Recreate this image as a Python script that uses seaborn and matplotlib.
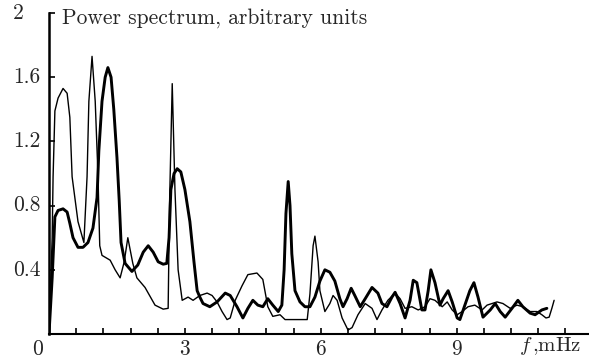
import numpy as np
import pandas as pd
import matplotlib
matplotlib.use("Agg")
import matplotlib.pyplot as plt
import seaborn as sns

# thin curve (first spectrum), frequency in mHz
thin_f = [0.00, 0.03, 0.07, 0.09, 0.13, 0.20, 0.31, 0.40, 0.46, 0.51, 0.64, 0.77,
          0.84, 0.88, 0.95, 1.02, 1.08, 1.12, 1.17, 1.35, 1.46, 1.57, 1.66, 1.74,
          1.85, 1.94, 2.12, 2.34, 2.52, 2.63, 2.66, 2.72, 2.78, 2.85, 2.94, 3.07,
          3.18, 3.33, 3.49, 3.60, 3.71, 3.82, 3.93, 4.00, 4.11, 4.26, 4.39, 4.59,
          4.72, 4.83, 4.94, 5.10, 5.21, 5.43, 5.70, 5.76, 5.83, 5.87, 5.94, 5.98,
          6.09, 6.20, 6.27, 6.36, 6.47, 6.60, 6.69, 6.82, 6.98, 7.13, 7.24, 7.35,
          7.48, 7.64, 7.75, 7.86, 8.01, 8.15, 8.30, 8.41, 8.52, 8.68, 8.79, 8.90,
          9.01, 9.12, 9.25, 9.40, 9.56, 9.67, 9.89, 10.02, 10.18, 10.33, 10.46,
          10.62, 10.77, 10.88, 10.97, 11.04, 11.10, 11.15]
thin_p = [0.00, 0.27, 0.60, 0.98, 1.39, 1.47, 1.53, 1.50, 1.35, 0.98, 0.70, 0.57,
          0.98, 1.45, 1.73, 1.45, 1.00, 0.55, 0.49, 0.46, 0.40, 0.35, 0.45, 0.60,
          0.44, 0.35, 0.29, 0.18, 0.155, 0.16, 0.80, 1.56, 0.90, 0.40, 0.21, 0.23,
          0.21, 0.24, 0.255, 0.24, 0.20, 0.14, 0.09, 0.10, 0.21, 0.30, 0.37, 0.38,
          0.34, 0.17, 0.11, 0.12, 0.09, 0.09, 0.09, 0.25, 0.55, 0.61, 0.45, 0.27,
          0.14, 0.19, 0.24, 0.21, 0.10, 0.025, 0.04, 0.12, 0.19, 0.16, 0.09, 0.15,
          0.21, 0.255, 0.22, 0.16, 0.17, 0.15, 0.17, 0.22, 0.21, 0.17, 0.20, 0.15,
          0.12, 0.14, 0.17, 0.18, 0.15, 0.18, 0.20, 0.19, 0.16, 0.18, 0.17,
          0.14, 0.14, 0.12, 0.10, 0.105, 0.16, 0.21]

# thick curve (second spectrum)
thick_f = [0.00, 0.07, 0.13, 0.20, 0.31, 0.40, 0.46, 0.53, 0.64, 0.75, 0.86, 0.97,
           1.06, 1.10, 1.17, 1.24, 1.30, 1.37, 1.43, 1.50, 1.55, 1.59, 1.68, 1.83,
           1.96, 2.08, 2.19, 2.30, 2.41, 2.52, 2.60, 2.65, 2.69, 2.76, 2.83, 2.91,
           3.00, 3.11, 3.20, 3.27, 3.33, 3.40, 3.55, 3.71, 3.89, 4.00, 4.15, 4.28,
           4.39, 4.50, 4.61, 4.72, 4.83, 4.94, 5.06, 5.14, 5.19, 5.23, 5.28, 5.32,
           5.36, 5.43, 5.54, 5.65, 5.76, 5.87, 5.98, 6.09, 6.20, 6.31, 6.42, 6.49,
           6.58, 6.67, 6.75, 6.87, 6.98, 7.13, 7.26, 7.35, 7.46, 7.57, 7.64, 7.75,
           7.86, 7.97, 8.04, 8.12, 8.23, 8.30, 8.37, 8.43, 8.52, 8.63, 8.70, 8.81,
           8.90, 9.01, 9.07, 9.18, 9.29, 9.38, 9.47, 9.58, 9.74, 9.85, 9.96, 10.07,
           10.22, 10.35, 10.46, 10.62, 10.73, 10.88, 10.99]
thick_p = [0.00, 0.35, 0.73, 0.77, 0.78, 0.76, 0.69, 0.60, 0.54, 0.54, 0.57, 0.66,
           0.85, 1.14, 1.45, 1.60, 1.66, 1.60, 1.40, 1.10, 0.83, 0.57, 0.44, 0.39,
           0.43, 0.51, 0.55, 0.51, 0.45, 0.435, 0.44, 0.60, 0.90, 1.00, 1.03, 1.01,
           0.90, 0.70, 0.45, 0.27, 0.23, 0.19, 0.17, 0.20, 0.255, 0.24, 0.17, 0.10,
           0.16, 0.21, 0.18, 0.17, 0.22, 0.18, 0.14, 0.18, 0.40, 0.75, 0.95, 0.80,
           0.50, 0.27, 0.20, 0.17, 0.17, 0.23, 0.33, 0.40, 0.385, 0.33, 0.22, 0.17,
           0.22, 0.285, 0.24, 0.17, 0.22, 0.29, 0.255, 0.19, 0.17, 0.23, 0.26, 0.19,
           0.10, 0.21, 0.335, 0.32, 0.15, 0.15, 0.27, 0.40, 0.32, 0.18, 0.22, 0.27,
           0.20, 0.10, 0.09, 0.18, 0.27, 0.32, 0.23, 0.105, 0.15, 0.19, 0.14, 0.105,
           0.16, 0.21, 0.17, 0.13, 0.12, 0.15, 0.16]

y_ticks = [0.4, 0.8, 1.2, 1.6, 2.0]
y_labels = ["0.4", "0.8", "1.2", "1.6", "2"]
x_major = [3, 6, 9]

sns.set_theme(style="white")
plt.rcParams["font.family"] = ["cmr10", "DejaVu Serif"]
plt.rcParams["mathtext.fontset"] = "cm"
plt.rcParams["axes.formatter.use_mathtext"] = True

fig = plt.figure(figsize=(5.89, 3.58), dpi=100)
ax = fig.add_axes([0.0832, 0.067, 0.9168, 0.8966])

thin_df = pd.DataFrame({"f": thin_f, "p": thin_p})
thick_df = pd.DataFrame({"f": thick_f, "p": thick_p})
sns.lineplot(data=thin_df, x="f", y="p", ax=ax, color="black", lw=1.0,
             estimator=None, sort=False)
sns.lineplot(data=thick_df, x="f", y="p", ax=ax, color="black", lw=2.1,
             estimator=None, sort=False, solid_joinstyle="round")

ax.set_xlim(0, 11.92)
ax.set_ylim(0, 2.0)
ax.set_xlabel("")
ax.set_ylabel("")
for s in ["top", "right"]:
    ax.spines[s].set_visible(False)
ax.spines["left"].set_linewidth(1.8)
ax.spines["bottom"].set_linewidth(1.5)
ax.spines["left"].set_color("black")
ax.spines["bottom"].set_color("black")

# ticks point inward
ax.set_xticks(np.arange(0.6, 11.9, 0.6))
ax.set_xticklabels([])
ax.set_yticks(y_ticks)
ax.set_yticklabels([])
ax.tick_params(axis="both", direction="in", length=4, width=1.2, color="black",
               bottom=True, left=True)

fs = 15.5
tr_x = ax.get_xaxis_transform()
for v in x_major:
    ax.text(v, -0.016, str(v), transform=tr_x, ha="center", va="top", fontsize=fs)
tr_y = ax.get_yaxis_transform()
for v, lab in zip(y_ticks, y_labels):
    ax.text(-0.067, v, lab, transform=tr_y, ha="left", va="center", fontsize=fs)
ax.text(-0.012, -0.016, "0", transform=ax.transAxes, ha="right", va="top", fontsize=fs)
ax.text(0.985, -0.004, r"$f\,$,mHz", transform=ax.transAxes, ha="right", va="top",
        fontsize=15)
ax.text(0.024, 0.985, "Power spectrum, arbitrary units", transform=ax.transAxes,
        ha="left", va="center", fontsize=fs)

fig.savefig("out.png", dpi=100)
